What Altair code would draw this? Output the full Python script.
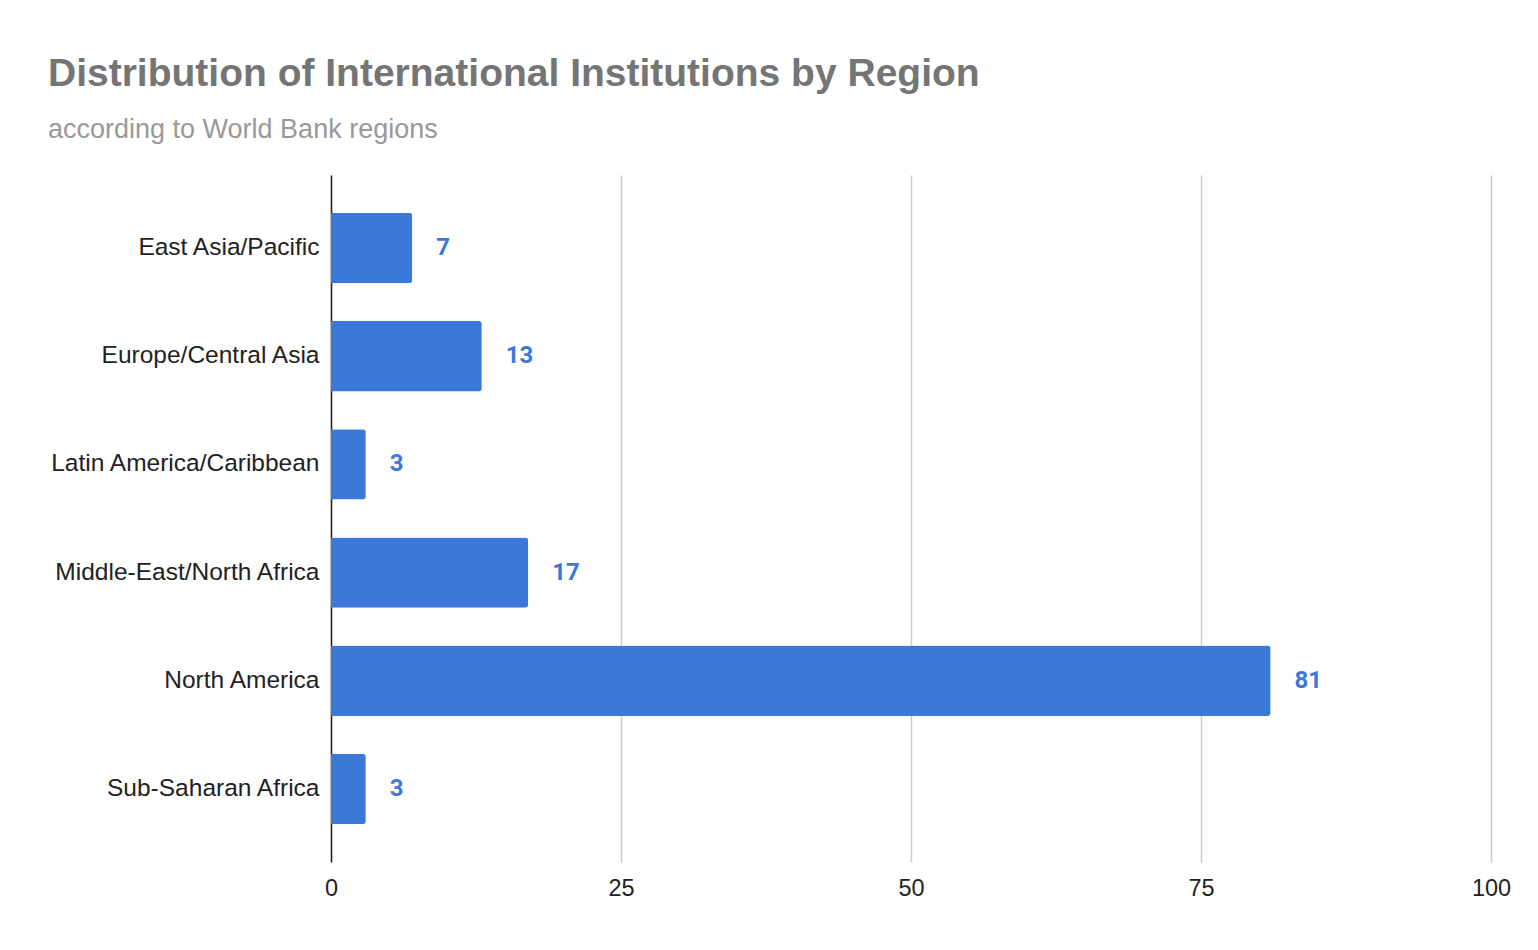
import altair as alt
import pandas as pd

regions = ["East Asia/Pacific", "Europe/Central Asia", "Latin America/Caribbean",
           "Middle-East/North Africa", "North America", "Sub-Saharan Africa"]
counts = [7, 13, 3, 17, 81, 3]
x_ticks = [0, 25, 50, 75, 100]

df = pd.DataFrame({"region": regions, "count": counts})

BLUE = "#3c78d8"

y_enc = alt.Y("region:N", sort=regions, title=None,
              scale=alt.Scale(paddingInner=0.35, paddingOuter=0.35),
              axis=alt.Axis(domain=True, domainColor="#222222", domainWidth=1.5,
                            ticks=False, labelFont="Liberation Sans", labelFontSize=24.5,
                            labelColor="#222222", labelPadding=12, labelLimit=0,
                            grid=False))
x_enc = alt.X("count:Q", title=None,
              scale=alt.Scale(domain=[0, 100]),
              axis=alt.Axis(values=x_ticks, domain=False, ticks=False, grid=True,
                            gridColor="#cccccc", gridWidth=1.5, labelFlush=False,
                            labelFont="Liberation Sans", labelFontSize=23.5,
                            labelColor="#222222", labelPadding=14))

bars = alt.Chart(df).mark_bar(color=BLUE, cornerRadiusEnd=3).encode(x=x_enc, y=y_enc)

labels = alt.Chart(df).mark_text(align="left", baseline="middle", dx=24,
                                 font="Roboto", fontWeight="bold", fontSize=24,
                                 color=BLUE).encode(
    x="count:Q", y=alt.Y("region:N", sort=regions), text="count:Q")

chart = (bars + labels).properties(
    width=1160, height=687,
    background="white",
    title=alt.TitleParams(
        text="Distribution of International Institutions by Region",
        subtitle="according to World Bank regions",
        anchor="start", frame="group", dx=-283, offset=32,
        font="Liberation Sans", fontSize=39, fontWeight="bold", color="#757575",
        subtitleFont="Liberation Sans", subtitleFontSize=27, subtitleColor="#999999",
        subtitlePadding=23),
    padding={"left": 323, "top": 167, "right": 30, "bottom": 60},
    autosize=alt.AutoSizeParams(type="none"),
).configure_view(stroke=None)

chart.save("out.html", embed_options={"renderer": "svg", "actions": False})
